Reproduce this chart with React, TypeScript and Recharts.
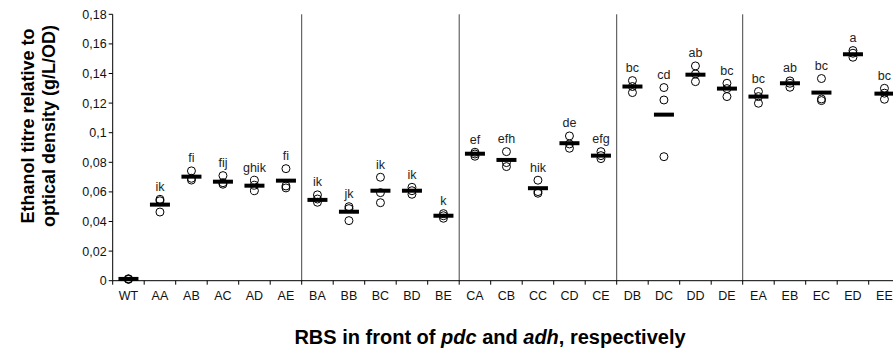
import React from "react";
import { ComposedChart, Scatter, XAxis, YAxis, ReferenceLine } from "recharts";

const categories = ["WT", "AA", "AB", "AC", "AD", "AE", "BA", "BB", "BC", "BD", "BE", "CA", "CB", "CC", "CD", "CE", "DB", "DC", "DD", "DE", "EA", "EB", "EC", "ED", "EE"];
const replicate1 = [0.0013, 0.055, 0.0742, 0.071, 0.0679, 0.0757, 0.058, 0.05, 0.0699, 0.0631, 0.0453, 0.0868, 0.0872, 0.0679, 0.0978, 0.0872, 0.1352, 0.1305, 0.1451, 0.1334, 0.1278, 0.135, 0.1366, 0.1555, 0.13];
const replicate2 = [0.0011, 0.054, 0.0692, 0.0662, 0.0645, 0.064, 0.0552, 0.0487, 0.0595, 0.0608, 0.0439, 0.0856, 0.0798, 0.0602, 0.0924, 0.0845, 0.1312, 0.1221, 0.1397, 0.1298, 0.1244, 0.1334, 0.1228, 0.1537, 0.1267];
const replicate3 = [0.0009, 0.0464, 0.068, 0.0652, 0.0608, 0.0627, 0.053, 0.0406, 0.0527, 0.0584, 0.0422, 0.0841, 0.0771, 0.0591, 0.0895, 0.0825, 0.1271, 0.0838, 0.1345, 0.1244, 0.1199, 0.1307, 0.1217, 0.151, 0.1226];
const means = [0.0012, 0.0514, 0.0703, 0.0669, 0.0642, 0.0676, 0.0546, 0.0466, 0.0608, 0.0608, 0.0439, 0.0858, 0.0816, 0.0625, 0.0929, 0.0845, 0.1312, 0.1122, 0.1392, 0.1298, 0.1244, 0.1334, 0.1271, 0.153, 0.1264];
const letters = ["", "ik", "fi", "fij", "ghik", "fi", "ik", "jk", "ik", "ik", "k", "ef", "efh", "hik", "de", "efg", "bc", "cd", "ab", "bc", "bc", "ab", "bc", "a", "bc"];
const yTicks = [0, 0.02, 0.04, 0.06, 0.08, 0.1, 0.12, 0.14, 0.16, 0.18];

const rows = categories.map((name, i) => ({
  pos: i + 0.5,
  name,
  r1: replicate1[i],
  r2: replicate2[i],
  r3: replicate3[i],
  mean: means[i],
  top: Math.max(replicate1[i], replicate2[i], replicate3[i]),
  letter: letters[i],
}));
// ticks: category boundaries (integers) get tick marks, centres (halves) get labels
const xTicks: number[] = [];
categories.forEach((_, i) => {
  xTicks.push(i, i + 0.5);
});
xTicks.push(categories.length);
const separators = categories
  .map((c, i) => (i > 1 && c[0] !== categories[i - 1][0] ? i : null))
  .filter((v) => v !== null) as number[];

const FONT = "'Liberation Sans', Arial, Helvetica, sans-serif";
const TICK_SIZE = 6;
const TICK_MARGIN = 4;

const XTick = (p: any) => {
  const v = p.payload.value as number;
  if (Number.isInteger(v)) {
    const axisY = p.y - TICK_SIZE - TICK_MARGIN;
    return <line x1={p.x} x2={p.x} y1={axisY} y2={axisY + 4} stroke="#000" strokeWidth={1} />;
  }
  return (
    <text x={p.x} y={p.y} dy="0.71em" textAnchor="middle" fontSize={12.5} fill="#111" fontFamily={FONT}>
      {categories[Math.floor(v)]}
    </text>
  );
};

const CircleShape = (p: any) => (
  <circle cx={p.cx} cy={p.cy} r={4} fill="none" stroke="#000" strokeWidth={1} />
);
const MeanShape = (p: any) => (
  <rect x={p.cx - 10} y={p.cy - 2} width={20} height={4} fill="#000" />
);
const LetterShape = (p: any) => (
  <text x={p.cx} y={p.cy - 8.5} textAnchor="middle" fontSize={12.5} fill="#222" fontFamily={FONT}>
    {p.payload.letter}
  </text>
);

export default function App() {
  return (
    <div style={{ position: "fixed", left: 0, top: 0, width: 893, height: 348, overflow: "hidden", background: "#fff" }}>
      <div style={{ position: "absolute", left: 0, top: 0 }}>
        <ComposedChart
          width={910}
          height={348}
          data={rows}
          margin={{ top: 14.3, right: 9.8, bottom: 37.3, left: 52.7 }}
          style={{ fontFamily: FONT }}
        >
          <XAxis
            type="number"
            dataKey="pos"
            domain={[0, categories.length]}
            ticks={xTicks}
            interval={0}
            tick={<XTick />}
            tickLine={false}
            tickSize={TICK_SIZE}
            tickMargin={TICK_MARGIN}
            axisLine={{ stroke: "#000" }}
            height={30}
          />
          <YAxis
            type="number"
            domain={[0, 0.18]}
            ticks={yTicks}
            interval={0}
            width={60}
            tickSize={4}
            tickMargin={2}
            axisLine={{ stroke: "#000" }}
            tickLine={{ stroke: "#000" }}
            tick={{ fontSize: 12.5, fill: "#111", fontFamily: FONT }}
            tickFormatter={(v: number) => String(v).replace(".", ",")}
          />
          {separators.map((s) => (
            <ReferenceLine key={s} x={s} stroke="#444" strokeWidth={1} />
          ))}
          <Scatter data={rows} dataKey="r1" shape={CircleShape} isAnimationActive={false} />
          <Scatter data={rows} dataKey="r2" shape={CircleShape} isAnimationActive={false} />
          <Scatter data={rows} dataKey="r3" shape={CircleShape} isAnimationActive={false} />
          <Scatter data={rows} dataKey="mean" shape={MeanShape} isAnimationActive={false} />
          <Scatter data={rows} dataKey="top" shape={LetterShape} isAnimationActive={false} />
        </ComposedChart>
      </div>
      <div
        style={{
          position: "absolute",
          left: 39,
          top: 126,
          width: 280,
          transform: "translate(-50%, -50%) rotate(-90deg)",
          textAlign: "center",
          fontFamily: FONT,
          fontWeight: "bold",
          fontSize: 18,
          lineHeight: "21px",
          color: "#000",
          whiteSpace: "nowrap",
        }}
      >
        <div>Ethanol titre relative to</div>
        <div>optical density (g/L/OD)</div>
      </div>
      <div
        style={{
          position: "absolute",
          left: 190,
          top: 327,
          width: 600,
          textAlign: "center",
          fontFamily: FONT,
          fontWeight: "bold",
          fontSize: 20,
          lineHeight: "20px",
          color: "#000",
          whiteSpace: "nowrap",
        }}
      >
        RBS in front of <i>pdc</i> and <i>adh</i>, respectively
      </div>
    </div>
  );
}
